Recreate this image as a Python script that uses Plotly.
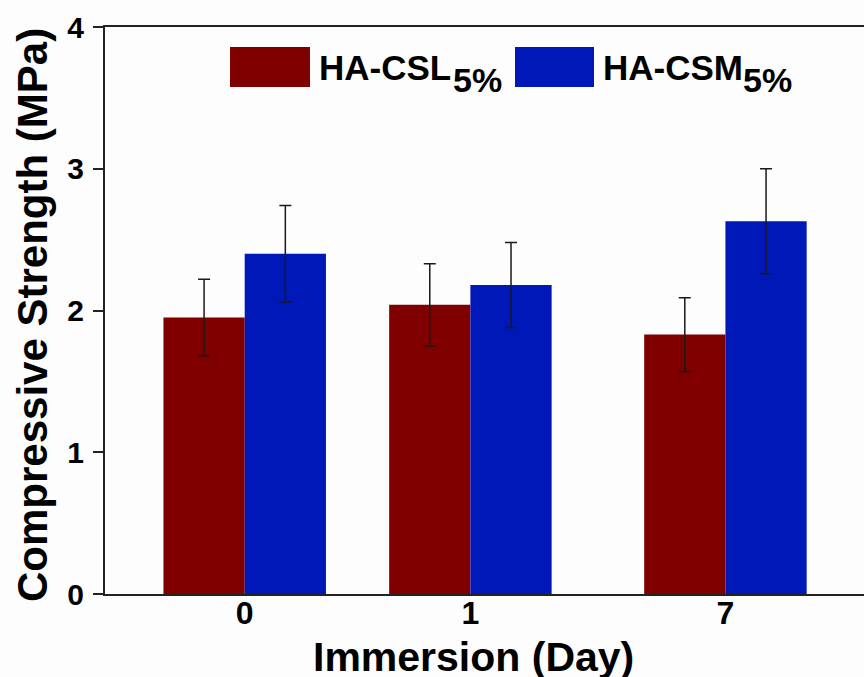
import plotly.graph_objects as go

# ---- data ----
days = ["0", "1", "7"]
csl_mean = [1.95, 2.04, 1.83]
csl_err = [0.27, 0.29, 0.26]
csm_mean = [2.40, 2.18, 2.63]
csm_err = [0.34, 0.30, 0.37]
series_names = ["HA-CSL", "HA-CSM"]
y_ticks = [0, 1, 2, 3, 4]

# ---- layout constants ----
x_pos = [0, 1, 2.13]          # category slot positions on the x axis
W, H = 864, 677
ML, MR, MT, MB = 105, 0, 27, 83
RED = "#800000"
BLUE = "#0018B8"
FONT = "Liberation Sans, Arial, sans-serif"

fig = go.Figure()
fig.add_trace(go.Bar(
    x=x_pos, y=csl_mean, name=series_names[0], marker=dict(color=RED, line=dict(width=0)),
    error_y=dict(type="data", array=csl_err, visible=True, color="#1a1a1a", thickness=1.5, width=6),
))
fig.add_trace(go.Bar(
    x=x_pos, y=csm_mean, name=series_names[1], marker=dict(color=BLUE, line=dict(width=0)),
    error_y=dict(type="data", array=csm_err, visible=True, color="#1a1a1a", thickness=1.5, width=6),
))

pw = W - ML - MR
ph = H - MT - MB
def px(x):
    return (x - ML) / pw
def py(y):
    return (H - MB - y) / ph

shapes = []
annotations = []
legend_items = [
    (RED, 230, 310, series_names[0], 317, 451),
    (BLUE, 515, 594, series_names[1], 601, 741),
]
for color, x0, x1, label, tx, sx in legend_items:
    shapes.append(dict(type="rect", xref="paper", yref="paper",
                       x0=px(x0), x1=px(x1), y0=py(87), y1=py(47),
                       fillcolor=color, line=dict(width=0)))
    annotations.append(dict(xref="paper", yref="paper", x=px(tx), y=py(67),
                            xanchor="left", yanchor="middle", showarrow=False,
                            text="<b>%s</b>" % label,
                            font=dict(family=FONT, size=35, color="black")))
    annotations.append(dict(xref="paper", yref="paper", x=px(sx), y=py(80),
                            xanchor="left", yanchor="middle", showarrow=False,
                            text="<b>5%</b>",
                            font=dict(family=FONT, size=34, color="black")))

# axis titles
annotations.append(dict(xref="paper", yref="paper", x=px(473), y=py(657),
                        xanchor="center", yanchor="middle", showarrow=False,
                        text="<b>Immersion (Day)</b>",
                        font=dict(family=FONT, size=41, color="black")))
annotations.append(dict(xref="paper", yref="paper", x=px(32), y=py(315),
                        xanchor="center", yanchor="middle", showarrow=False, textangle=-90,
                        text="<b>Compressive Strength (MPa)</b>",
                        font=dict(family=FONT, size=42, color="black")))

fig.update_layout(
    width=W, height=H,
    margin=dict(l=ML, r=MR, t=MT, b=MB, pad=0, autoexpand=False),
    paper_bgcolor="#FDFDFD", plot_bgcolor="#FDFDFD",
    barmode="group", bargap=0.28, bargroupgap=0,
    showlegend=False,
    font=dict(family=FONT, color="black"),
    shapes=shapes, annotations=annotations,
    xaxis=dict(
        range=[-0.619, 2.744], tickvals=x_pos, ticktext=["<b>%s</b>" % d for d in days],
        tickfont=dict(family=FONT, size=32, color="black"), ticklabelstandoff=-10,
        showline=True, linecolor="#222", linewidth=2, mirror=True,
        ticks="", showgrid=False, zeroline=False, automargin=False,
    ),
    yaxis=dict(
        range=[0, 4], tickvals=y_ticks, ticktext=["<b>%d</b>" % v for v in y_ticks],
        tickfont=dict(family=FONT, size=30, color="black"), ticklabelstandoff=3,
        showline=True, linecolor="#222", linewidth=2,
        ticks="outside", ticklen=10, tickwidth=1.5, tickcolor="#222",
        showgrid=False, zeroline=False, automargin=False,
    ),
)

fig.write_html("out.html", config={"displayModeBar": False},
               post_script="document.body.style.margin='0';document.body.style.overflow='hidden';")
